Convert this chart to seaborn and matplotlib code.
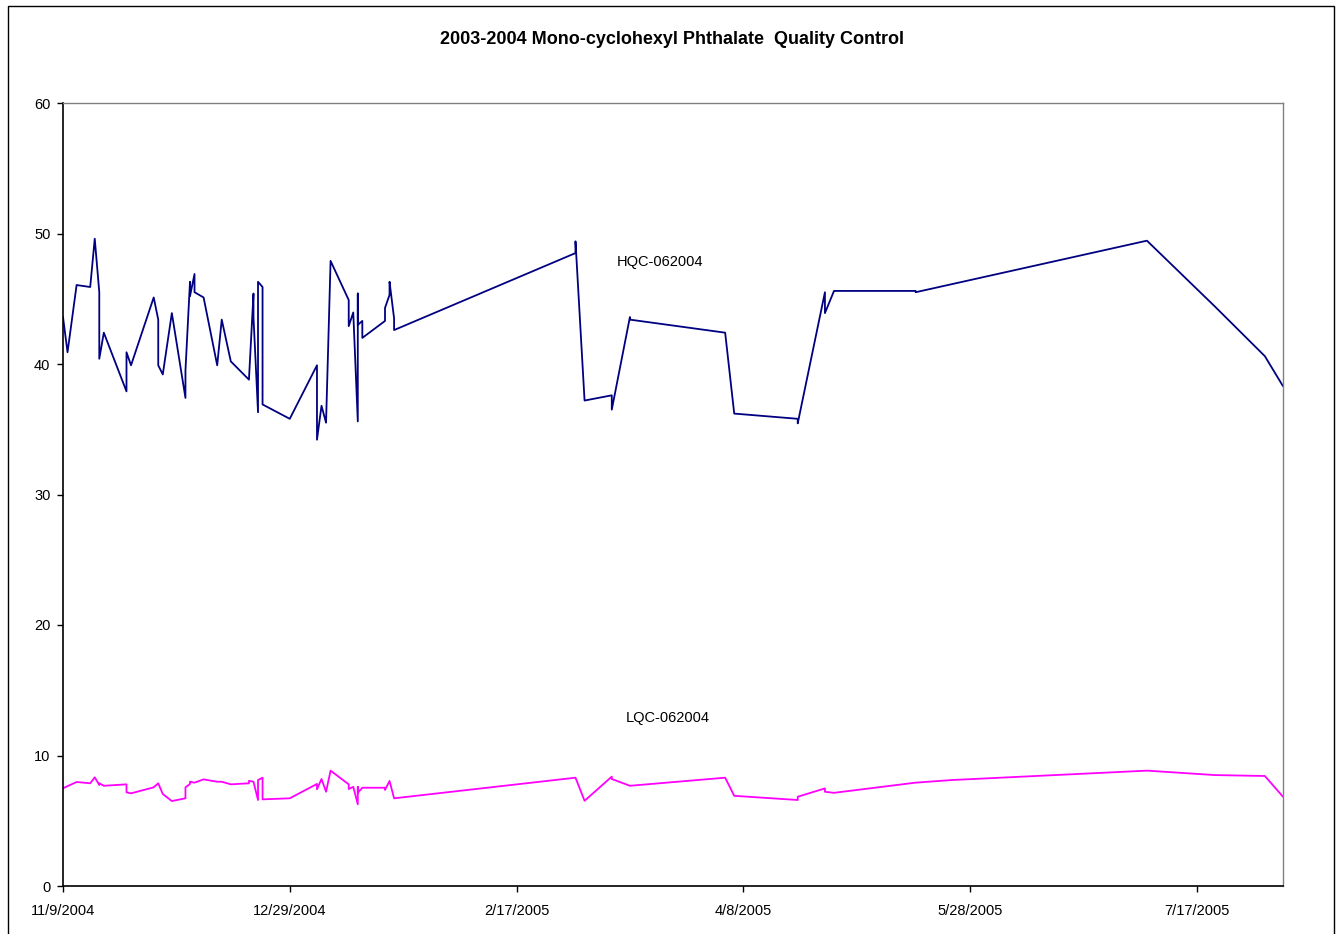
import matplotlib
matplotlib.use("Agg")
import matplotlib.pyplot as plt
import seaborn as sns
import pandas as pd
from matplotlib.patches import Rectangle

# ---- data ----
hqc_dates = ["2004-11-09", "2004-11-10", "2004-11-12", "2004-11-15", "2004-11-16", "2004-11-17",
             "2004-11-17", "2004-11-18", "2004-11-23", "2004-11-23", "2004-11-24", "2004-11-29",
             "2004-11-30", "2004-11-30", "2004-12-01", "2004-12-03", "2004-12-06", "2004-12-06",
             "2004-12-07", "2004-12-07", "2004-12-08", "2004-12-08", "2004-12-10", "2004-12-13",
             "2004-12-14", "2004-12-16", "2004-12-20", "2004-12-21", "2004-12-21", "2004-12-22",
             "2004-12-22", "2004-12-23", "2004-12-23", "2004-12-29", "2005-01-04", "2005-01-04",
             "2005-01-05", "2005-01-06", "2005-01-07", "2005-01-11", "2005-01-11", "2005-01-12",
             "2005-01-13", "2005-01-13", "2005-01-13", "2005-01-14", "2005-01-14", "2005-01-19",
             "2005-01-19", "2005-01-20", "2005-01-20", "2005-01-21", "2005-01-21", "2005-03-02",
             "2005-03-02", "2005-03-04", "2005-03-10", "2005-03-10", "2005-03-14", "2005-03-14",
             "2005-04-04", "2005-04-06", "2005-04-20", "2005-04-20", "2005-04-26", "2005-04-26",
             "2005-04-28", "2005-05-16", "2005-05-16", "2005-07-06", "2005-07-21", "2005-08-01",
             "2005-08-05"]
hqc_values = [43.6, 40.9, 46.05, 45.9, 49.6, 45.5,
              40.4, 42.4, 37.9, 40.9, 39.9, 45.1,
              43.4, 39.9, 39.2, 43.9, 37.4, 39.5,
              46.3, 45.2, 46.9, 45.5, 45.1, 39.9,
              43.4, 40.2, 38.8, 45.4, 43.6, 36.3,
              46.3, 45.9, 36.9, 35.8, 39.9, 34.2,
              36.8, 35.5, 47.9, 44.9, 42.9, 43.95,
              35.6, 45.4, 43.0, 43.3, 42.0, 43.3,
              44.3, 45.3, 46.3, 43.5, 42.6, 48.5,
              49.4, 37.2, 37.6, 36.5, 43.6, 43.4,
              42.4, 36.2, 35.8, 35.45, 45.5, 43.9,
              45.6, 45.6, 45.5, 49.45, 44.4, 40.6,
              38.3]

lqc_dates = ["2004-11-09", "2004-11-12", "2004-11-15", "2004-11-16", "2004-11-17", "2004-11-17",
             "2004-11-18", "2004-11-23", "2004-11-23", "2004-11-24", "2004-11-29", "2004-11-30",
             "2004-12-01", "2004-12-03", "2004-12-06", "2004-12-06", "2004-12-07", "2004-12-07",
             "2004-12-08", "2004-12-10", "2004-12-13", "2004-12-14", "2004-12-16", "2004-12-20",
             "2004-12-20", "2004-12-21", "2004-12-22", "2004-12-22", "2004-12-23", "2004-12-23",
             "2004-12-29", "2005-01-04", "2005-01-04", "2005-01-05", "2005-01-06", "2005-01-07",
             "2005-01-11", "2005-01-11", "2005-01-12", "2005-01-13", "2005-01-13", "2005-01-13",
             "2005-01-14", "2005-01-19", "2005-01-19", "2005-01-20", "2005-01-21", "2005-03-02",
             "2005-03-04", "2005-03-10", "2005-03-10", "2005-03-14", "2005-04-04", "2005-04-06",
             "2005-04-20", "2005-04-20", "2005-04-26", "2005-04-26", "2005-04-28", "2005-05-16",
             "2005-05-24", "2005-07-06", "2005-07-21", "2005-08-01", "2005-08-05"]
lqc_values = [7.49, 7.97, 7.87, 8.33, 7.74, 7.87,
              7.68, 7.79, 7.18, 7.1, 7.56, 7.87,
              7.05, 6.51, 6.72, 7.56, 7.82, 7.99,
              7.92, 8.17, 7.99, 7.99, 7.79, 7.87,
              8.06, 7.99, 6.59, 8.12, 8.3, 6.64,
              6.72, 7.82, 7.41, 8.2, 7.22, 8.84,
              7.79, 7.43, 7.6, 6.26, 7.6, 7.14,
              7.53, 7.53, 7.36, 8.05, 6.72, 8.3,
              6.53, 8.38, 8.2, 7.68, 8.3, 6.91,
              6.59, 6.84, 7.48, 7.22, 7.14, 7.92,
              8.12, 8.84, 8.5, 8.43, 6.84]

series_names = ["HQC-062004", "LQC-062004"]
x_tick_labels = ["11/9/2004", "12/29/2004", "2/17/2005", "4/8/2005", "5/28/2005", "7/17/2005"]
y_ticks = [0, 10, 20, 30, 40, 50, 60]
title = "2003-2004 Mono-cyclohexyl Phthalate  Quality Control"
x_start, x_end = "2004-11-09", "2005-08-05"

# ---- build ----
hqc = pd.DataFrame({"date": pd.to_datetime(hqc_dates), "value": hqc_values, "series": series_names[0]})
lqc = pd.DataFrame({"date": pd.to_datetime(lqc_dates), "value": lqc_values, "series": series_names[1]})

sns.set_theme(style="white")
plt.rcParams["font.family"] = ["Liberation Sans", "DejaVu Sans"]

fig = plt.figure(figsize=(13.42, 9.34), dpi=100)
ax = fig.add_axes([63 / 1342, 1 - 886 / 934, (1283 - 63) / 1342, (886 - 103) / 934])

sns.lineplot(data=hqc, x="date", y="value", color="#000080", linewidth=1.3,
             estimator=None, sort=False, ax=ax)
sns.lineplot(data=lqc, x="date", y="value", color="#FF00FF", linewidth=1.3,
             estimator=None, sort=False, ax=ax)

ax.set_xlim(pd.Timestamp(x_start), pd.Timestamp(x_end))
ax.set_ylim(0, 60)
ax.set_yticks(y_ticks)
ax.set_yticklabels([str(v) for v in y_ticks], fontsize=10.5)
ax.set_xticks(pd.to_datetime(x_tick_labels, format="%m/%d/%Y"))
ax.set_xticklabels(x_tick_labels, fontsize=10.5)
ax.set_xlabel("")
ax.set_ylabel("")
ax.tick_params(axis="both", which="major", direction="out", length=4, width=1,
               color="black", labelcolor="black")
ax.tick_params(axis="x", pad=9)
ax.tick_params(axis="y", pad=5)
ax.tick_params(bottom=True, left=True)
ax.grid(False)

for side in ["left", "bottom"]:
    ax.spines[side].set_color("black")
    ax.spines[side].set_linewidth(1.2)
for side in ["top", "right"]:
    ax.spines[side].set_color("#808080")
    ax.spines[side].set_linewidth(1.0)

# series labels
ax.text(pd.Timestamp("2005-03-11"), 47.8, series_names[0], fontsize=10.5, color="black",
        ha="left", va="center")
ax.text(pd.Timestamp("2005-03-13"), 12.9, series_names[1], fontsize=10.5, color="black",
        ha="left", va="center")

fig.text(672 / 1342, 1 - 39 / 934, title, fontsize=13, fontweight="bold",
         ha="center", va="center", color="black")

# outer chart frame
fig.patches.append(Rectangle((8 / 1342, -0.01), (1334 - 8) / 1342, 1.01 - 6 / 934,
                             transform=fig.transFigure, fill=False,
                             edgecolor="black", linewidth=1.0))

fig.savefig("out.png", dpi=100)
